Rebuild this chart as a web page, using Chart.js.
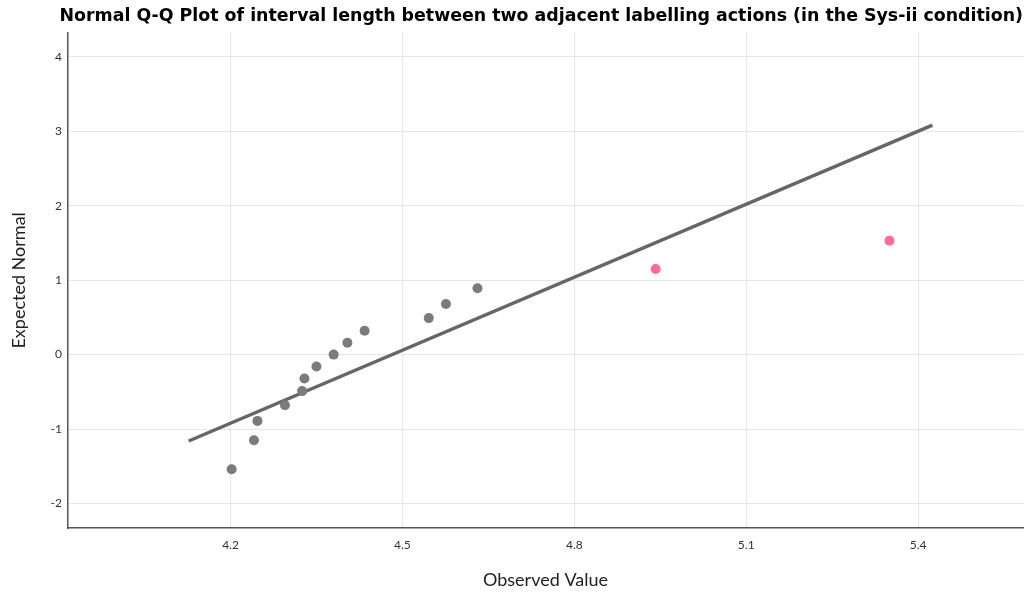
<!DOCTYPE html>
<html>
<head>
<meta charset="utf-8">
<script src="https://cdn.jsdelivr.net/npm/chart.js@4/dist/chart.umd.min.js"></script>
<style>
  html, body { margin: 0; padding: 0; background: #fff; }
  #wrap { width: 1033px; height: 593px; }
</style>
</head>
<body>
<div id="wrap"><canvas id="qqChart"></canvas></div>
<script>
var observed = [4.202, 4.241, 4.247, 4.295, 4.325, 4.329, 4.350, 4.380, 4.404, 4.434, 4.546, 4.576, 4.631];
var expected = [-1.54, -1.15, -0.89, -0.68, -0.49, -0.32, -0.16, 0.00, 0.16, 0.32, 0.49, 0.68, 0.89];

// the two highlighted (pink) points
var observedHi = [4.942, 5.350];
var expectedHi = [1.15, 1.53];

// reference line end points
var lineX = [4.127, 5.425];
var lineY = [-1.16, 3.08];

var xTicks = [4.2, 4.5, 4.8, 5.1, 5.4];
var yTicks = [-2, -1, 0, 1, 2, 3, 4];

function toPoints(xs, ys) {
  return xs.map(function (x, i) { return { x: x, y: ys[i] }; });
}

var ctx = document.getElementById('qqChart');
var myChart = new Chart(ctx, {
  type: 'scatter',
  data: {
    datasets: [
      {
        label: 'Line',
        type: 'line',
        data: toPoints(lineX, lineY),
        borderColor: '#666666',
        borderWidth: 3.5,
        pointRadius: 0,
        fill: false,
        order: 2
      },
      {
        label: 'Observed',
        data: toPoints(observed, expected),
        backgroundColor: '#7b7b7b',
        borderColor: '#7b7b7b',
        pointRadius: 5,
        pointBorderWidth: 0,
        order: 1
      },
      {
        label: 'Highlighted',
        data: toPoints(observedHi, expectedHi),
        backgroundColor: '#ff6b9b',
        borderColor: '#ff6b9b',
        pointRadius: 5,
        pointBorderWidth: 0,
        order: 1
      }
    ]
  },
  options: {
    responsive: true,
    maintainAspectRatio: false,
    animation: false,
    layout: {
      padding: { top: 0, left: 0, right: 10, bottom: 0 }
    },
    scales: {
      x: {
        type: 'linear',
        min: 3.9164,
        max: 5.583,
        afterBuildTicks: function (scale) {
          scale.ticks = xTicks.map(function (v) { return { value: v }; });
        },
        afterFit: function (scale) { scale.height = 65; },
        grid: { color: '#e6e6e6', lineWidth: 1, drawTicks: false },
        border: { display: true, color: '#555555', width: 1.5 },
        ticks: {
          padding: 10,
          color: '#333333',
          font: { family: 'Lato', size: 12 },
          callback: function (v) { return v.toFixed(1); }
        },
        title: {
          display: true,
          text: 'Observed Value',
          color: '#222222',
          font: { family: 'Lato', size: 18 },
          padding: { top: 4, bottom: 2 }
        }
      },
      y: {
        type: 'linear',
        min: -2.328,
        max: 4.322,
        afterBuildTicks: function (scale) {
          scale.ticks = yTicks.map(function (v) { return { value: v }; });
        },
        afterFit: function (scale) { scale.width = 68; },
        grid: { color: '#e6e6e6', lineWidth: 1, drawTicks: false },
        border: { display: true, color: '#555555', width: 1.5 },
        ticks: {
          padding: 6,
          color: '#333333',
          font: { family: 'Lato', size: 12 }
        },
        title: {
          display: true,
          text: 'Expected Normal',
          color: '#222222',
          font: { family: 'Lato', size: 18 },
          padding: { top: 8, bottom: 4 }
        }
      }
    },
    plugins: {
      legend: { display: false },
      tooltip: { enabled: true },
      title: {
        display: true,
        text: 'Normal Q-Q Plot of interval length between two adjacent labelling actions (in the Sys-ii condition)',
        align: 'end',
        color: '#000000',
        font: { family: 'DejaVu Sans', size: 17.4, weight: 'bold' },
        padding: { top: 6.5, bottom: 5.3 }
      }
    }
  }
});
</script>
</body>
</html>
